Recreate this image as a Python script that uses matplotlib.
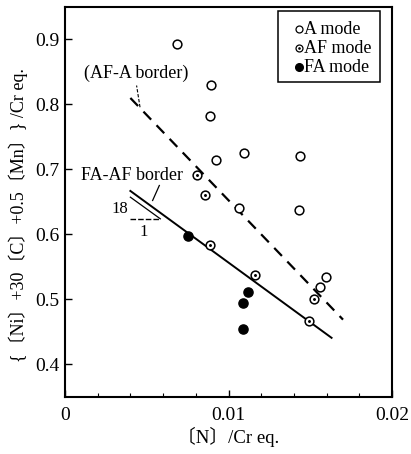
import matplotlib
matplotlib.use("Agg")
import matplotlib.pyplot as plt
from matplotlib.ticker import MultipleLocator
from matplotlib.patches import Rectangle

plt.rcParams['font.family'] = ['Liberation Serif', 'Noto Sans CJK JP', 'DejaVu Sans']

# data
a_x = [0.00683, 0.00893, 0.00887, 0.00924, 0.01093, 0.01435, 0.01064, 0.01431, 0.01594, 0.01560]
a_y = [0.893, 0.830, 0.783, 0.714, 0.726, 0.720, 0.640, 0.637, 0.534, 0.519]

af_x = [0.00809, 0.00858, 0.00889, 0.01164, 0.01525, 0.01492]
af_y = [0.691, 0.661, 0.584, 0.537, 0.501, 0.467]

fa_x = [0.00750, 0.01117, 0.01087, 0.01090]
fa_y = [0.597, 0.512, 0.494, 0.454]

afa_border_x = [0.0040, 0.0170]
afa_border_y = [0.810, 0.469]
faaf_border_x = [0.0040, 0.0163]
faaf_border_y = [0.667, 0.441]

legend_labels = ['A mode', 'AF mode', 'FA mode']
legend_y = [0.9154, 0.8866, 0.8574]

fig = plt.figure(figsize=(4.11, 4.54), dpi=100)
ax = fig.add_axes([0.158, 0.1256, 0.796, 0.859])

ax.plot(afa_border_x, afa_border_y, color='black', lw=1.6, ls=(0, (5, 3.5)))
ax.plot(faaf_border_x, faaf_border_y, color='black', lw=1.4)

# slope triangle 18:1
ax.plot([0.0040, 0.00583], [0.6574, 0.6241], color='black', lw=0.9)
ax.plot([0.0040, 0.00583], [0.6241, 0.6241], color='black', lw=1.0, ls=(0, (4, 1.5)))
ax.text(0.00336, 0.6395, '18', fontsize=12, ha='center', va='center')
ax.text(0.00479, 0.6035, '1', fontsize=12, ha='center', va='center')

ms = 6.3
ax.plot(a_x, a_y, 'o', mfc='white', mec='black', mew=1.1, ms=ms)
ax.plot(af_x, af_y, 'o', mfc='white', mec='black', mew=1.1, ms=ms)
ax.plot(af_x, af_y, '.', color='black', ms=2.2)
ax.plot(fa_x, fa_y, 'o', mfc='black', mec='black', ms=ms + 0.3)

# labels of border lines
ax.text(0.00434, 0.8477, '(AF-A border)', fontsize=13, ha='center', va='center')
ax.plot([0.00459, 0.00438], [0.7958, 0.8292], color='black', lw=0.8, ls=(0, (3, 1.5)))
ax.text(0.0041, 0.691, 'FA-AF border', fontsize=13, ha='center', va='center')
ax.plot([0.00536, 0.00577], [0.6523, 0.6754], color='black', lw=0.9)

# legend drawn as box with entries
for lab, yy in zip(legend_labels, legend_y):
    ax.text(0.01462, yy, lab, fontsize=13, ha='left', va='center')
mx = 0.01428
ax.plot([mx], [legend_y[0]], 'o', mfc='white', mec='black', mew=0.9, ms=5)
ax.plot([mx], [legend_y[1]], 'o', mfc='white', mec='black', mew=0.9, ms=5)
ax.plot([mx], [legend_y[1]], '.', color='black', ms=1.8)
ax.plot([mx], [legend_y[2]], 'o', mfc='black', mec='black', ms=5.5)
ax.add_patch(Rectangle((0.01301, 0.8343), 0.00626, 0.1092, fill=False,
                       lw=1.1, ec='black', zorder=3))

ax.set_xlim(0, 0.02)
ax.set_ylim(0.35, 0.95)
ax.set_xticks([0, 0.01, 0.02])
ax.set_xticklabels(['0', '0.01', '0.02'])
ax.xaxis.set_minor_locator(MultipleLocator(0.002))
ax.set_yticks([0.4, 0.5, 0.6, 0.7, 0.8, 0.9])
ax.set_yticklabels(['0.4', '0.5', '0.6', '0.7', '0.8', '0.9'])
ax.tick_params(which='major', direction='in', length=5, width=1, labelsize=14)
ax.tick_params(axis='y', which='major', pad=4)
ax.tick_params(axis='x', which='major', pad=7)
ax.tick_params(which='minor', direction='in', length=3, width=0.8)
for s in ax.spines.values():
    s.set_linewidth(1.5)

ax.set_xlabel('〔N〕/Cr eq.', fontsize=13.5, labelpad=2)
ax.set_ylabel('{〔Ni〕+30〔C〕+0.5〔Mn〕} /Cr eq.', fontsize=13)
ax.yaxis.set_label_coords(-0.112, 0.467)

fig.savefig('out.png', dpi=100)
